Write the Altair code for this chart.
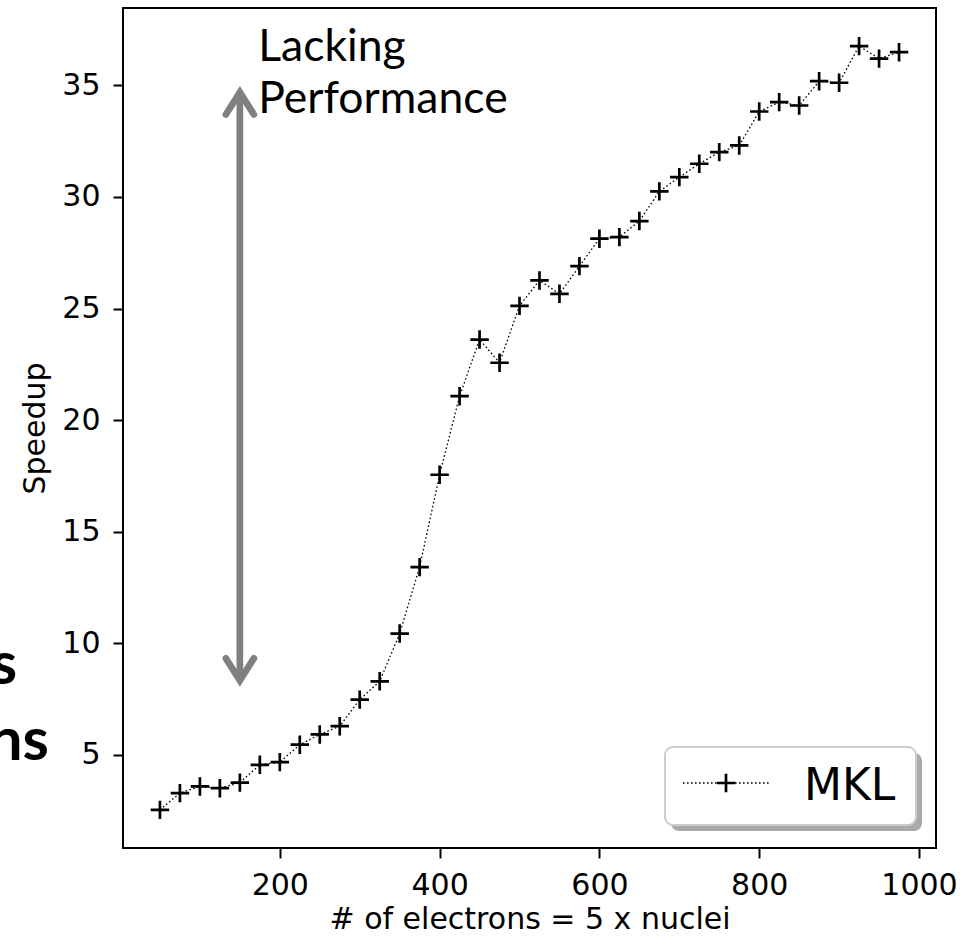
import altair as alt
import pandas as pd

# ---------------- data ----------------
electrons = [50, 75, 100, 125, 150, 175, 200, 225, 250, 275, 300, 325, 350,
             375, 400, 425, 450, 475, 500, 525, 550, 575, 600, 625, 650, 675,
             700, 725, 750, 775, 800, 825, 850, 875, 900, 925, 950, 975]
speedup = [2.53, 3.28, 3.58, 3.50, 3.75, 4.55, 4.67, 5.45, 5.91, 6.28, 7.47,
           8.29, 10.43, 13.41, 17.55, 21.07, 23.61, 22.57, 25.12, 26.26, 25.66,
           26.90, 28.13, 28.20, 28.92, 30.25, 30.89, 31.49, 32.01, 32.31, 33.83,
           34.25, 34.10, 35.19, 35.12, 36.76, 36.20, 36.49]
series_name = "MKL"
x_ticks = [200, 400, 600, 800, 1000]
y_ticks = [5, 10, 15, 20, 25, 30, 35]
x_title = "# of electrons = 5 x nuclei"
y_title = "Speedup"
annotation_lines = ["Lacking", "Performance"]
side_texts = ["s", "ns"]

# annotation arrow (data coordinates)
arrow_x = 150
arrow_lo = 8.33
arrow_hi = 34.69
head_dx = 17.5
head_dy = 0.99

df = pd.DataFrame({"n": electrons, "speedup": speedup})

W, H = 813, 840
xscale = alt.Scale(domain=[3.75, 1021.25], nice=False, zero=False)
yscale = alt.Scale(domain=[0.82, 38.47], nice=False, zero=False)

FONT = "DejaVu Sans"
FS = 30
x_axis = alt.Axis(title=x_title, values=x_ticks, format="d", grid=False, domain=False,
                  tickSize=10, tickWidth=2, tickColor="black",
                  labelFont=FONT, labelFontSize=FS, labelColor="black",
                  labelPadding=12, labelFlush=False, labelOverlap=False,
                  titleFont=FONT, titleFontSize=FS, titleFontWeight="normal",
                  titleColor="black", titleBaseline="alphabetic", titleY=80)
y_axis = alt.Axis(title=y_title, values=y_ticks, format="d", grid=False, domain=False,
                  tickSize=10, tickWidth=2, tickColor="black",
                  labelFont=FONT, labelFontSize=FS, labelColor="black",
                  labelPadding=13, labelFlush=False, labelOverlap=False,
                  titleFont=FONT, titleFontSize=FS, titleFontWeight="normal",
                  titleColor="black", titlePadding=11)

X = alt.X("n:Q", scale=xscale, axis=x_axis)
Y = alt.Y("speedup:Q", scale=yscale, axis=y_axis)
Y2 = alt.Y2("speedup2:Q")

base = alt.Chart(df)
line = base.mark_line(color="black", strokeWidth=1.3, strokeDash=[1.6, 2.4]).encode(x=X, y=Y)
PLUS = "M-1,0L1,0M0,-1L0,1"
points = base.mark_point(shape=PLUS, filled=False, color="black", strokeWidth=2.7,
                         size=340, opacity=1).encode(x=X, y=Y)

# arrow
shaft_df = pd.DataFrame({"n": [arrow_x], "speedup": [arrow_lo], "speedup2": [arrow_hi]})
shaft = alt.Chart(shaft_df).mark_rule(color="#808080", strokeWidth=6.7).encode(
    x=X, y=Y, y2=Y2)

heads_df = pd.DataFrame({
    "n": [arrow_x - head_dx, arrow_x, arrow_x + head_dx,
          arrow_x - head_dx, arrow_x, arrow_x + head_dx],
    "speedup": [arrow_hi - head_dy, arrow_hi, arrow_hi - head_dy,
                arrow_lo + head_dy, arrow_lo, arrow_lo + head_dy],
    "head": ["top"] * 3 + ["bottom"] * 3,
    "o": [0, 1, 2, 0, 1, 2],
})
heads = alt.Chart(heads_df).mark_line(color="#808080", strokeWidth=6.7,
                                      strokeCap="round", strokeJoin="miter").encode(
    x=X, y=Y, detail="head:N", order="o:Q")

# "Lacking Performance" annotation
ann_df = pd.DataFrame({"n": [173], "speedup": [36.08], "t": ["\n".join(annotation_lines)]})
ann = alt.Chart(ann_df).mark_text(font="Lato", fontSize=44.5, align="left",
                                  baseline="alphabetic", lineBreak="\n",
                                  lineHeight=51.7, color="black").encode(
    x=X, y=Y, text="t:N")

one = pd.DataFrame({"a": [0]})

# cut-off bold slide text on the left
side1 = alt.Chart(one).mark_text(font="Lato", fontWeight="bold", fontSize=60,
                                 align="right", baseline="alphabetic",
                                 color="black", text=side_texts[0]).encode(
    x=alt.value(-106), y=alt.value(676))
side2 = alt.Chart(one).mark_text(font="Lato", fontWeight="bold", fontSize=60,
                                 align="right", baseline="alphabetic",
                                 color="black", text=side_texts[1]).encode(
    x=alt.value(-74), y=alt.value(752))

# legend (manual, with shadow)
shadow = alt.Chart(one).mark_rect(fill="#aaaaaa", cornerRadius=8).encode(
    x=alt.value(548), x2=alt.value(799), y=alt.value(745), y2=alt.value(823))
box = alt.Chart(one).mark_rect(fill="white", stroke="#cccccc", strokeWidth=2,
                               cornerRadius=8).encode(
    x=alt.value(542), x2=alt.value(793), y=alt.value(739), y2=alt.value(817))
leg_line = alt.Chart(one).mark_rule(color="black", strokeWidth=1.3,
                                    strokeDash=[1.6, 2.4]).encode(
    x=alt.value(560), x2=alt.value(647), y=alt.value(775))
leg_pt = alt.Chart(one).mark_point(shape=PLUS, filled=False, color="black",
                                   strokeWidth=2.7, size=340, opacity=1).encode(
    x=alt.value(603), y=alt.value(775))
leg_txt = alt.Chart(one).mark_text(font=FONT, fontSize=44, align="left",
                                   baseline="alphabetic", color="black",
                                   text=series_name).encode(
    x=alt.value(681), y=alt.value(792))

chart = alt.layer(
    line, points, shaft, heads, ann, side1, side2,
    shadow, box, leg_line, leg_pt, leg_txt
).properties(
    width=W, height=H,
    autosize=alt.AutoSizeParams(type="none"),
    padding={"left": 123, "top": 8, "right": 35, "bottom": 89},
    background="white",
).configure_view(
    stroke="black", strokeWidth=2
)

chart.save("out.html", embed_options={"renderer": "svg", "actions": False})
